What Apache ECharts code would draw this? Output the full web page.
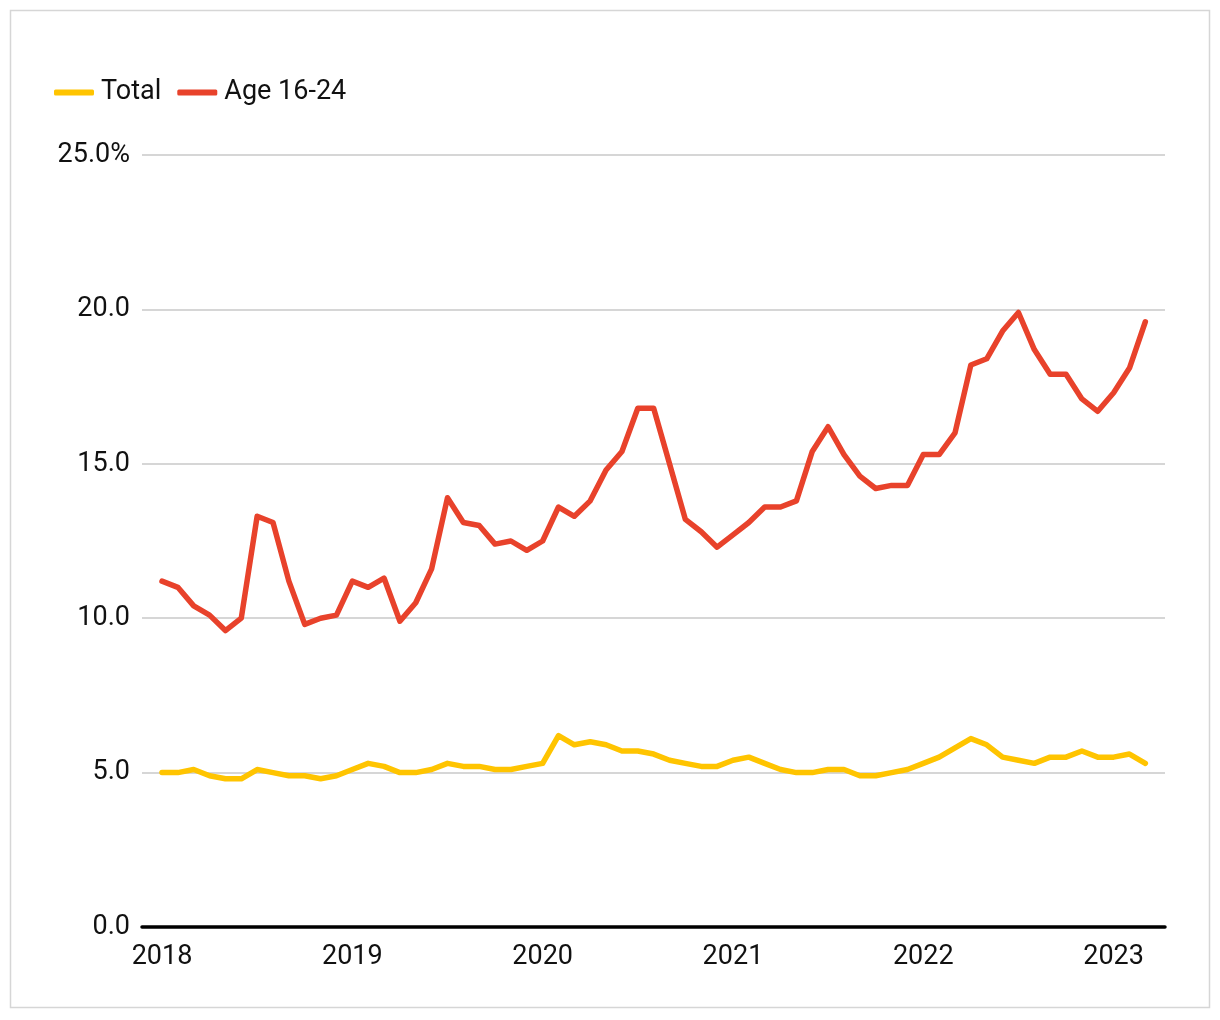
<!DOCTYPE html>
<html>
<head>
<meta charset="utf-8">
<script src="https://cdn.jsdelivr.net/npm/echarts@6/dist/echarts.min.js"></script>
<style>
html,body{margin:0;padding:0;background:#fff;}
#chart{width:1220px;height:1020px;}
</style>
</head>
<body>
<div id="chart"></div>
<script>
// Monthly, Jan 2018 – Mar 2023
const months = [];
for (let y = 2018; y <= 2023; y++) for (let m = 1; m <= 12; m++) { if (y === 2023 && m > 3) break; months.push(y + '-' + String(m).padStart(2,'0')); }

const total = [
  5.0, 5.0, 5.1, 4.9, 4.8, 4.8, 5.1, 5.0, 4.9, 4.9, 4.8, 4.9,
  5.1, 5.3, 5.2, 5.0, 5.0, 5.1, 5.3, 5.2, 5.2, 5.1, 5.1, 5.2,
  5.3, 6.2, 5.9, 6.0, 5.9, 5.7, 5.7, 5.6, 5.4, 5.3, 5.2, 5.2,
  5.4, 5.5, 5.3, 5.1, 5.0, 5.0, 5.1, 5.1, 4.9, 4.9, 5.0, 5.1,
  5.3, 5.5, 5.8, 6.1, 5.9, 5.5, 5.4, 5.3, 5.5, 5.5, 5.7, 5.5,
  5.5, 5.6, 5.3
];
const age1624 = [
  11.2, 11.0, 10.4, 10.1, 9.6, 10.0, 13.3, 13.1, 11.2, 9.8, 10.0, 10.1,
  11.2, 11.0, 11.3, 9.9, 10.5, 11.6, 13.9, 13.1, 13.0, 12.4, 12.5, 12.2,
  12.5, 13.6, 13.3, 13.8, 14.8, 15.4, 16.8, 16.8, 15.0, 13.2, 12.8, 12.3,
  12.7, 13.1, 13.6, 13.6, 13.8, 15.4, 16.2, 15.3, 14.6, 14.2, 14.3, 14.3,
  15.3, 15.3, 16.0, 18.2, 18.4, 19.3, 19.9, 18.7, 17.9, 17.9, 17.1, 16.7,
  17.3, 18.1, 19.6
];
const yearTicks = ['2018','2019','2020','2021','2022','2023'];

const toPairs = arr => arr.map((v, i) => [i, v]);
const FONT = 'Roboto';

const chart = echarts.init(document.getElementById('chart'), null, {renderer: 'canvas'});
chart.setOption({
  animation: false,
  backgroundColor: '#fff',
  textStyle: {fontFamily: FONT},
  graphic: [{
    type: 'rect', silent: true, z: -10,
    shape: {x: 10.5, y: 10.5, width: 1199, height: 997},
    style: {fill: 'none', stroke: '#d6d6d6', lineWidth: 1.5}
  }],
  legend: {
    left: 49, top: 74, itemGap: 16,
    itemWidth: 40, itemHeight: 6, icon: 'roundRect',
    textStyle: {fontSize: 27, color: '#111', fontFamily: FONT, padding: [0,0,0,2]},
    data: ['Total', 'Age 16-24']
  },
  grid: {left: 142, right: 55, top: 155, bottom: 93, containLabel: false},
  xAxis: {
    type: 'value', min: -1.26, max: 63.24,
    axisLine: {show: true, onZero: true, lineStyle: {color: '#000', width: 3.5}},
    axisTick: {show: false},
    splitLine: {show: false},
    axisLabel: {
      customValues: yearTicks.map((_, i) => i * 12),
      formatter: v => yearTicks[Math.round(v / 12)] || '',
      fontSize: 27, color: '#111', margin: 17, fontFamily: FONT
    }
  },
  yAxis: {
    type: 'value', min: 0, max: 25, interval: 5,
    axisLine: {show: false}, axisTick: {show: false},
    splitLine: {lineStyle: {color: '#c9c9c9', width: 1.5}},
    axisLabel: {
      formatter: v => v === 25 ? v.toFixed(1) + '%' : v.toFixed(1),
      fontSize: 27, color: '#111', margin: 12, fontFamily: FONT, padding: [4,0,0,0]
    }
  },
  series: [
    {name: 'Total', type: 'line', data: toPairs(total), showSymbol: false, symbol: 'none',
     color: '#FFC400', lineStyle: {width: 5.5, cap: 'round', join: 'round'}, z: 3},
    {name: 'Age 16-24', type: 'line', data: toPairs(age1624), showSymbol: false, symbol: 'none',
     color: '#E8422B', lineStyle: {width: 5.5, cap: 'round', join: 'round'}, z: 4}
  ]
});
</script>
</body>
</html>
